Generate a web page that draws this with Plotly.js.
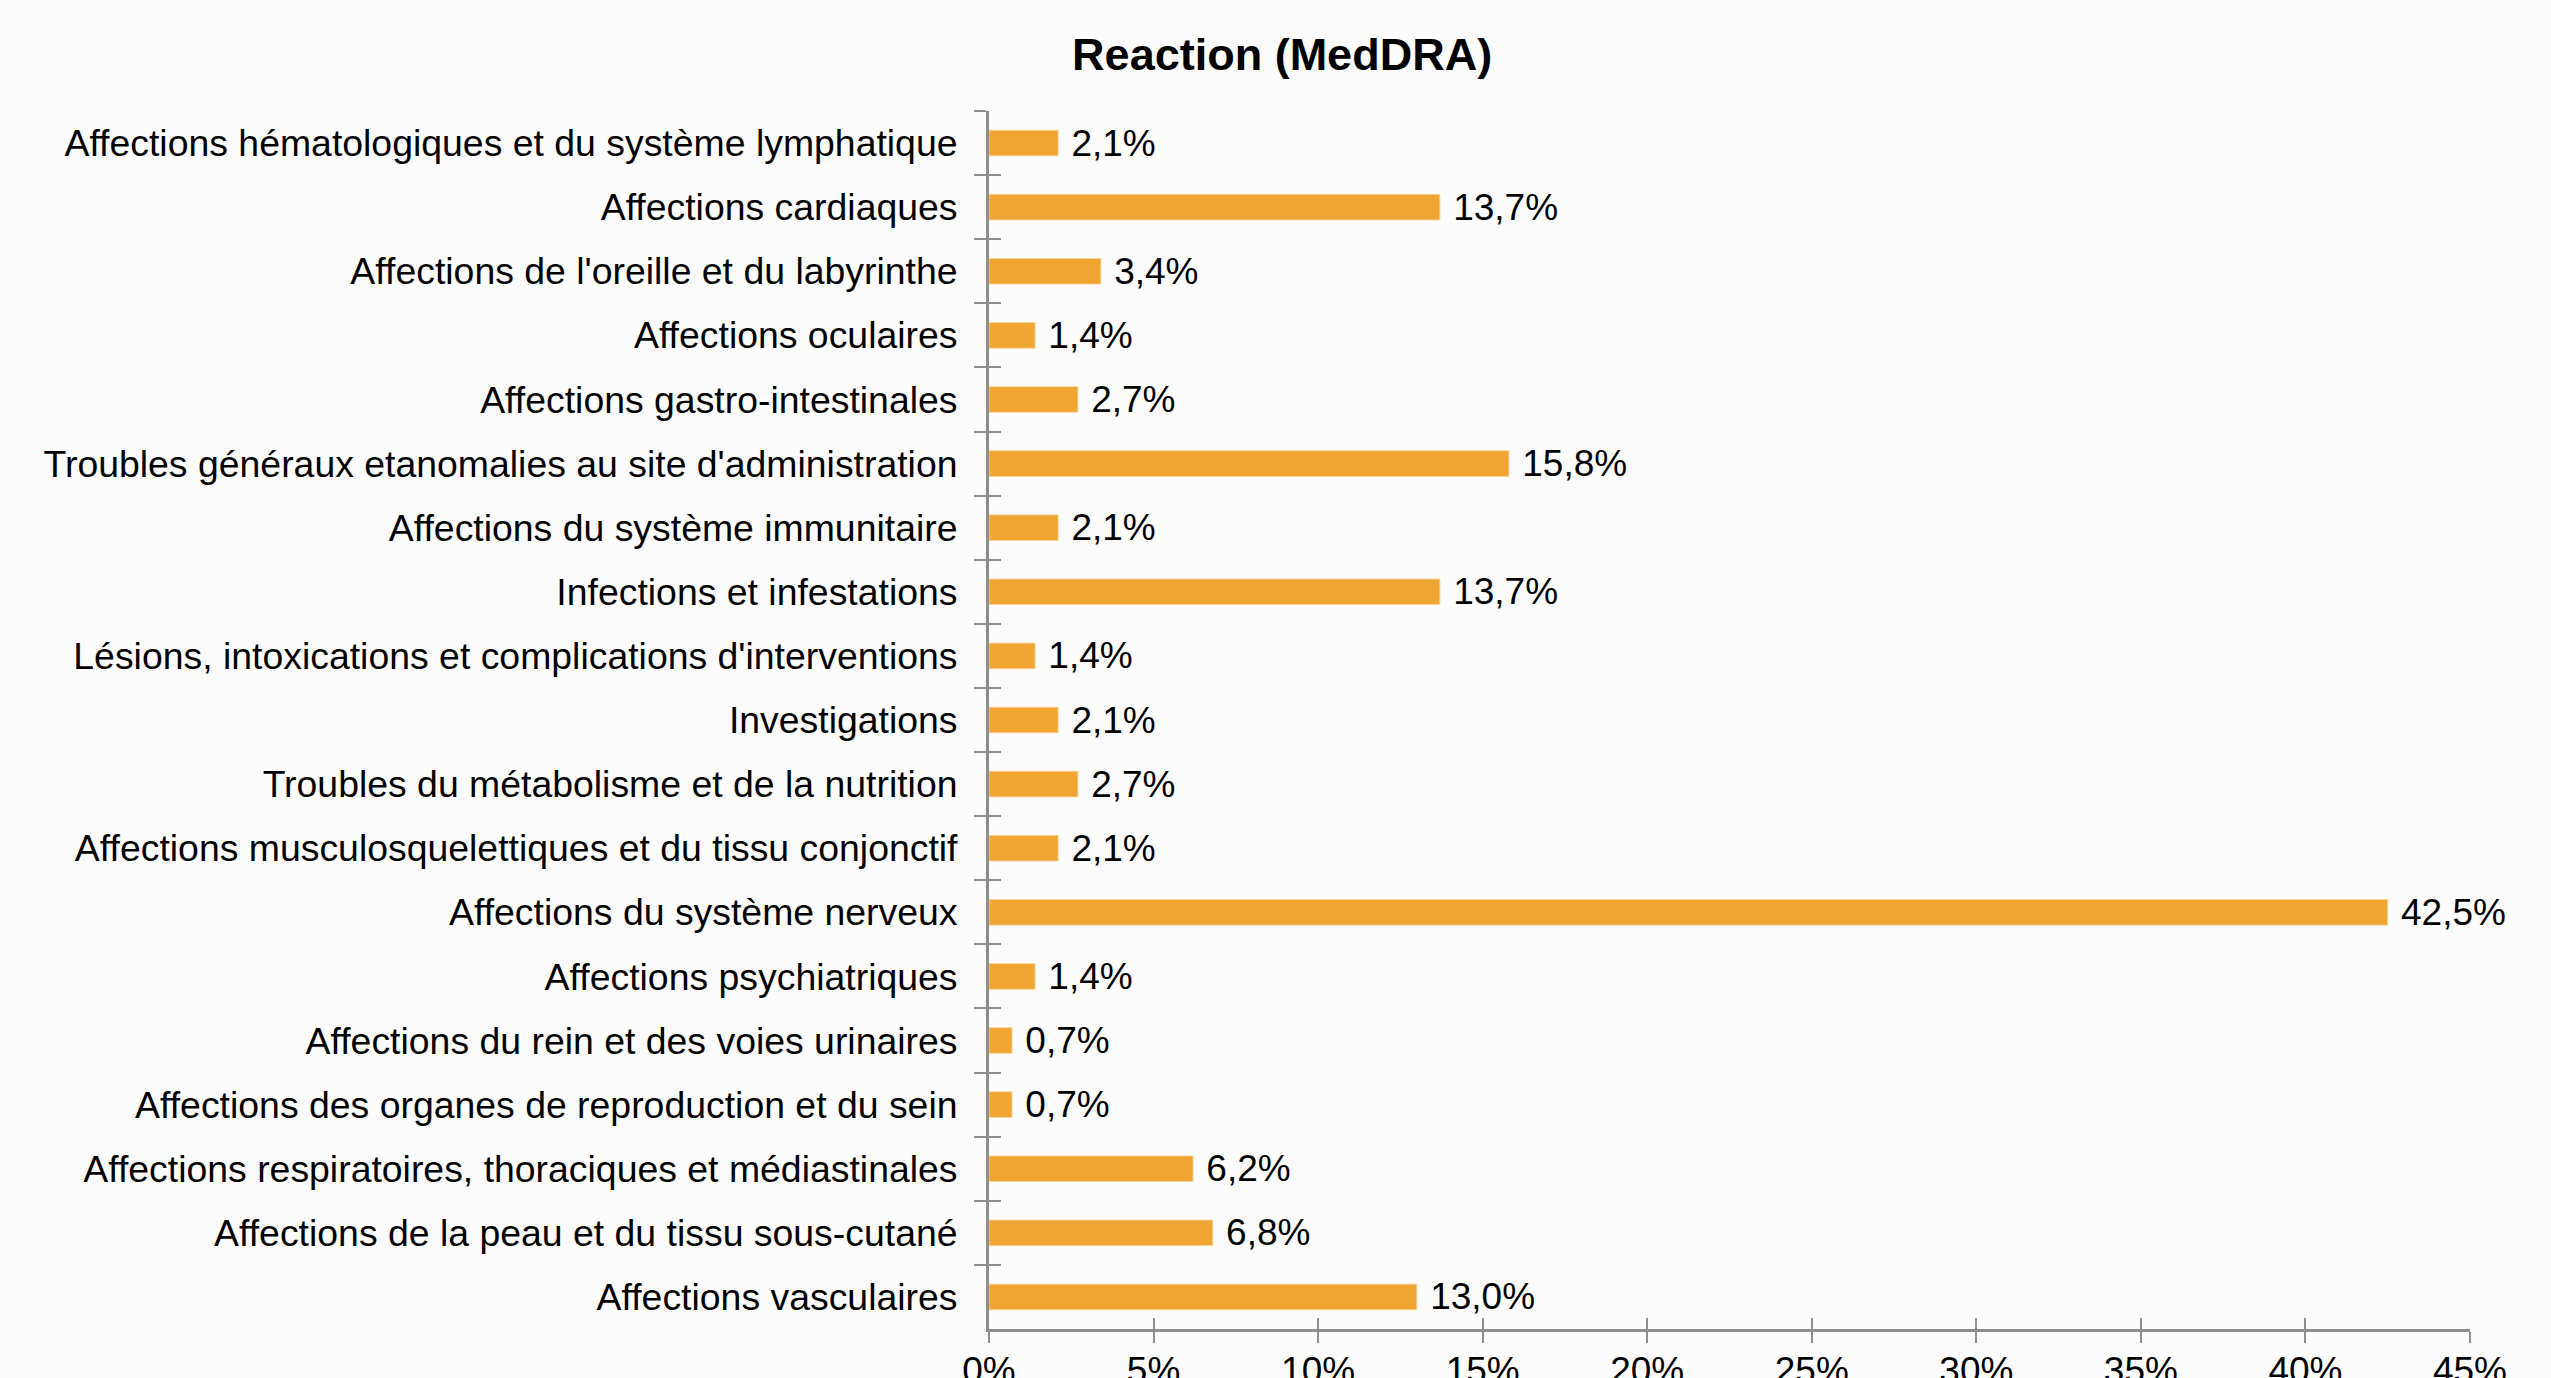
<!DOCTYPE html>
<html>
<head>
<meta charset="utf-8">
<script src="https://cdn.plot.ly/plotly-3.0.1.min.js"></script>
<style>
  html, body { margin: 0; padding: 0; background: #fdfcfd; }
  #chart { width: 2551px; height: 1378px; }
</style>
</head>
<body>
<div id="chart"></div>
<script>
var categories = [
  "Affections hématologiques et du système lymphatique",
  "Affections cardiaques",
  "Affections de l'oreille et du labyrinthe",
  "Affections oculaires",
  "Affections gastro-intestinales",
  "Troubles généraux etanomalies au site d'administration",
  "Affections du système immunitaire",
  "Infections et infestations",
  "Lésions, intoxications et complications d'interventions",
  "Investigations",
  "Troubles du métabolisme et de la nutrition",
  "Affections musculosquelettiques et du tissu conjonctif",
  "Affections du système nerveux",
  "Affections psychiatriques",
  "Affections du rein et des voies urinaires",
  "Affections des organes de reproduction et du sein",
  "Affections respiratoires, thoraciques et médiastinales",
  "Affections de la peau et du tissu sous-cutané",
  "Affections vasculaires"
];
var percents = [2.1, 13.7, 3.4, 1.4, 2.7, 15.8, 2.1, 13.7, 1.4, 2.1, 2.7, 2.1, 42.5, 1.4, 0.7, 0.7, 6.2, 6.8, 13.0];
var tickValues = [0, 5, 10, 15, 20, 25, 30, 35, 40, 45];
var tickLabels = tickValues.map(v => v + '%');

var axisGray = '#8e8e8e';
var fontFamily = 'Liberation Sans, Arial, sans-serif';

var trace = {
  y: categories,
  x: percents,
  type: 'bar',
  orientation: 'h',
  marker: {
    color: '#f0a432',
    line: {color: '#f8d49c', width: 1}
  },
  texttemplate: '\u00a0%{x:.1f}%',
  textposition: 'outside',
  constraintext: 'none',
  cliponaxis: false,
  textfont: {family: fontFamily, size: 37, color: '#000000'},
  hoverinfo: 'skip'
};

// invisible copy so the crossing tick marks (inside half) get their own axes
var ghost = {
  y: categories,
  x: percents,
  type: 'bar',
  orientation: 'h',
  xaxis: 'x2',
  yaxis: 'y2',
  marker: {color: 'rgba(0,0,0,0)'},
  hoverinfo: 'skip',
  showlegend: false
};

var layout = {
  width: 2551,
  height: 1378,
  paper_bgcolor: '#fdfcfd',
  plot_bgcolor: '#fdfcfd',
  separators: ', ',
  showlegend: false,
  bargap: 0.6,
  margin: {l: 989, r: 81, t: 111, b: 49},
  font: {family: fontFamily, size: 37, color: '#000000'},
  title: {
    text: '<b>Reaction (MedDRA)</b>',
    font: {family: fontFamily, size: 45, color: '#000000'},
    x: 0.5026,
    xref: 'container',
    y: 1 - 54 / 1378,
    yref: 'container',
    yanchor: 'middle'
  },
  xaxis: {
    range: [0, 45],
    tickvals: tickValues,
    ticktext: tickLabels,
    showgrid: false,
    zeroline: false,
    showline: true,
    linecolor: axisGray,
    linewidth: 3,
    ticks: 'outside',
    ticklen: 11,
    tickwidth: 2,
    tickcolor: axisGray,
    ticklabelstandoff: -4,
    tickfont: {size: 37},
    fixedrange: true
  },
  xaxis2: {
    overlaying: 'x',
    anchor: 'y',
    side: 'bottom',
    range: [0, 45],
    tickvals: tickValues,
    showticklabels: false,
    showgrid: false,
    zeroline: false,
    showline: false,
    ticks: 'inside',
    ticklen: 11,
    tickwidth: 2,
    tickcolor: axisGray,
    fixedrange: true
  },
  yaxis: {
    type: 'category',
    autorange: 'reversed',
    showgrid: false,
    showline: true,
    linecolor: axisGray,
    linewidth: 3,
    ticks: 'outside',
    tickson: 'boundaries',
    ticklen: 12,
    tickwidth: 2,
    tickcolor: axisGray,
    ticklabelstandoff: 21,
    tickfont: {size: 37.4},
    fixedrange: true
  },
  yaxis2: {
    type: 'category',
    overlaying: 'y',
    anchor: 'x',
    side: 'left',
    autorange: 'reversed',
    showgrid: false,
    showline: false,
    showticklabels: false,
    ticks: 'inside',
    tickson: 'boundaries',
    ticklen: 12,
    tickwidth: 2,
    tickcolor: axisGray,
    fixedrange: true
  }
};

Plotly.newPlot('chart', [trace, ghost], layout, {displayModeBar: false, staticPlot: true});
</script>
</body>
</html>
